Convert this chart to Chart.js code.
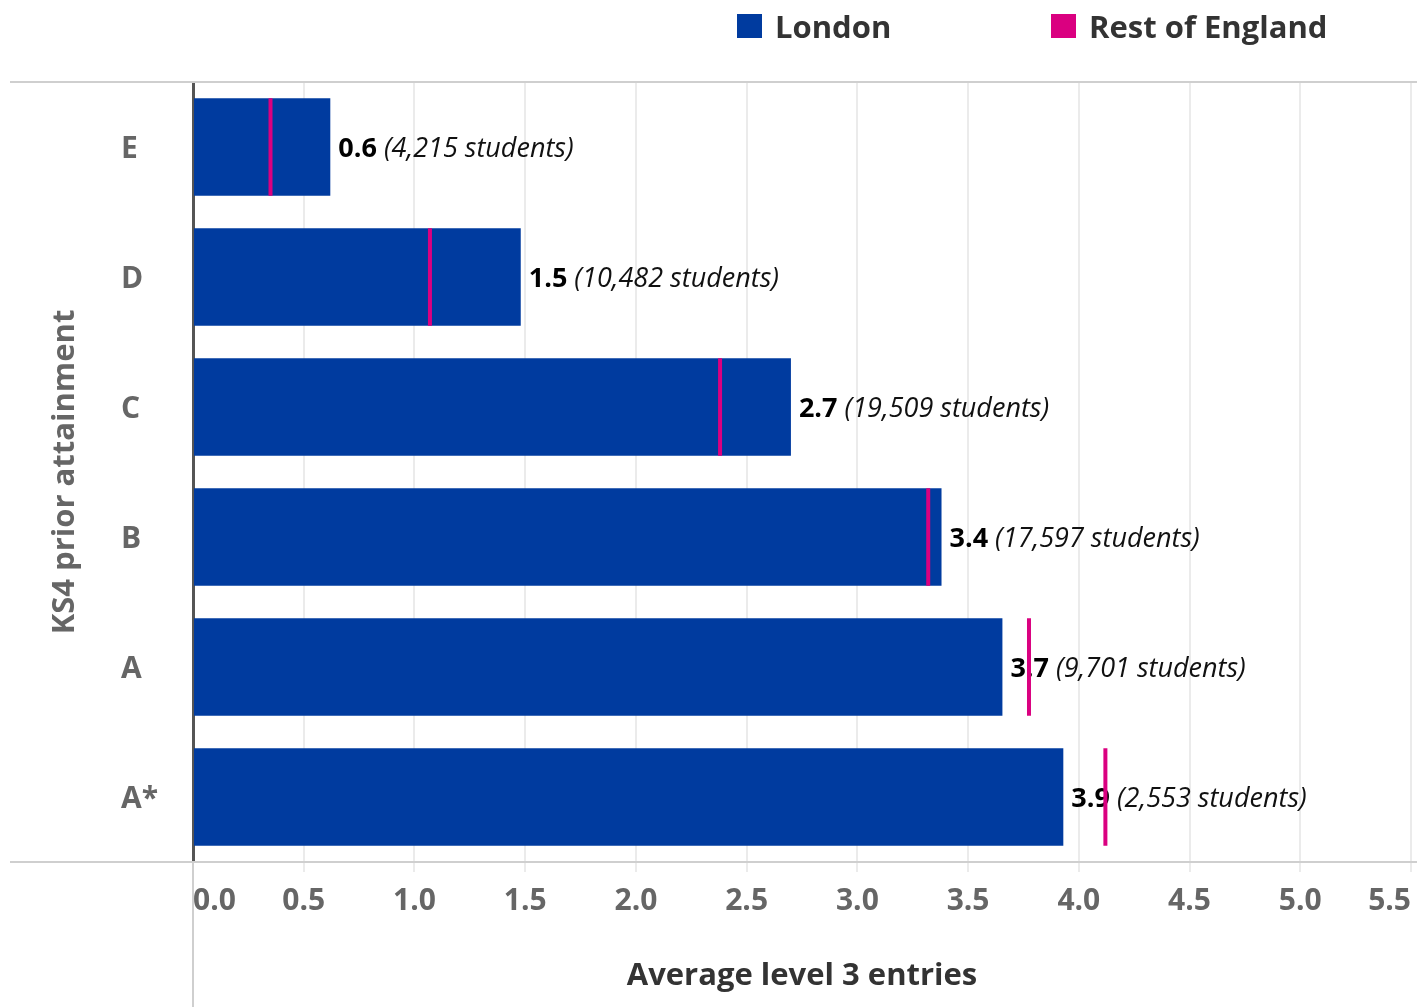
<!DOCTYPE html>
<html>
<head>
<meta charset="utf-8">
<script src="https://cdn.jsdelivr.net/npm/chart.js@4.4.0/dist/chart.umd.min.js"></script>
<style>
  body { margin: 0; background: #fff; font-family: 'Open Sans', sans-serif; }
  .wrap { position: relative; width: 1417px; height: 1007px; }
  .legend-item { position: absolute; top: 14px; height: 24px; line-height: 24px; display: flex; align-items: center; white-space: nowrap; font-weight: bold; font-size: 31px; color: #333; }
  .legend-item .box { width: 25px; height: 24px; margin-right: 13px; }
</style>
</head>
<body>
<div class="wrap">
  <div id="legend"></div>
  <canvas id="chart"></canvas>
</div>
<script>
// KS4 prior attainment bands
const categories = ['E', 'D', 'C', 'B', 'A', 'A*'];
// average level 3 entries
const london = [0.62, 1.48, 2.70, 3.38, 3.655, 3.93];
const restOfEngland = [0.35, 1.07, 2.38, 3.32, 3.775, 4.12];
const students = [4215, 10482, 19509, 17597, 9701, 2553];
const xMax = 5.5;
const xStep = 0.5;

const blue = '#003B9F';
const magenta = '#DA0080';
const font = 'Open Sans';
const legendLeft = [737, 1051];

// bold value + italic student count after each bar
const valueLabels = {
  id: 'valueLabels',
  afterDatasetDraw(chart, args) {
    if (args.meta.type !== 'bar') return;
    const ctx = chart.ctx;
    ctx.save();
    ctx.textBaseline = 'middle';
    args.meta.data.forEach((bar, i) => {
      const x = bar.x + 8;
      const y = bar.y + 2;
      const val = london[i].toFixed(1);
      ctx.font = `bold 27px "${font}"`;
      ctx.fillStyle = '#000';
      ctx.fillText(val, x, y);
      const w = ctx.measureText(val + ' ').width;
      ctx.font = `italic 27px "${font}"`;
      ctx.fillStyle = '#111';
      ctx.fillText('(' + students[i].toLocaleString('en-GB') + ' students)', x + w, y);
    });
    ctx.restore();
  }
};

// the light frame lines that run past the plot area
const frameLines = {
  id: 'frameLines',
  afterDraw(chart) {
    const {ctx, chartArea: a, width, height} = chart;
    ctx.save();
    ctx.strokeStyle = '#cfcfcf';
    ctx.lineWidth = 2;
    ctx.beginPath();
    ctx.moveTo(10, a.top); ctx.lineTo(width, a.top);
    ctx.moveTo(10, a.bottom); ctx.lineTo(width, a.bottom);
    ctx.moveTo(a.left, a.bottom); ctx.lineTo(a.left, height);
    ctx.stroke();
    ctx.restore();
  }
};

const chart = new Chart(document.getElementById('chart'), {
  type: 'bar',
  data: {
    labels: categories,
    datasets: [
      {
        type: 'bar',
        label: 'London',
        data: london,
        order: 1,
        backgroundColor: blue,
        barPercentage: 0.75,
        categoryPercentage: 1
      },
      {
        type: 'line',
        label: 'Rest of England',
        data: restOfEngland,
        order: 0,
        showLine: false,
        pointStyle: 'line',
        rotation: 90,
        pointRadius: 48.75,
        pointHoverRadius: 48.75,
        pointBorderWidth: 4,
        borderColor: magenta,
        backgroundColor: magenta
      }
    ]
  },
  options: {
    indexAxis: 'y',
    responsive: true,
    maintainAspectRatio: false,
    animation: false,
    events: [],
    layout: { autoPadding: false, padding: { top: 82, left: 121, right: 6, bottom: 0 } },
    plugins: {
      legend: { display: false },
      tooltip: { enabled: false }
    },
    scales: {
      x: {
        type: 'linear',
        min: 0,
        max: xMax,
        ticks: {
          stepSize: xStep,
          align: 'inner',
          color: '#666',
          padding: 6,
          font: { family: font, size: 30, weight: 'bold', lineHeight: 1.55 },
          callback: v => v.toFixed(1)
        },
        grid: { color: '#ebebeb', lineWidth: 2, tickLength: 10 },
        border: { display: false },
        title: {
          display: true,
          text: 'Average level 3 entries',
          color: '#333',
          font: { family: font, size: 31, weight: 'bold' },
          padding: { top: 0, bottom: 12 }
        },
        afterFit: s => { s.height = 145; }
      },
      y: {
        offset: true,
        ticks: {
          crossAlign: 'far',
          labelOffset: 2,
          color: '#666',
          font: { family: font, size: 30, weight: 'bold' }
        },
        grid: { display: true, drawOnChartArea: false, drawTicks: false },
        border: { display: true, color: '#555', width: 3 },
        title: {
          display: true,
          text: 'KS4 prior attainment',
          color: '#666',
          font: { family: font, size: 31, weight: 'bold' },
          padding: { top: -74, bottom: 0 }
        },
        afterFit: s => { s.width = 72; }
      }
    }
  },
  plugins: [valueLabels, frameLines]
});

// html legend built from the datasets
const legend = document.getElementById('legend');
chart.data.datasets.forEach((ds, i) => {
  const item = document.createElement('div');
  item.className = 'legend-item';
  item.style.left = legendLeft[i] + 'px';
  const box = document.createElement('span');
  box.className = 'box';
  box.style.background = ds.type === 'bar' ? ds.backgroundColor : ds.borderColor;
  item.appendChild(box);
  item.appendChild(document.createTextNode(ds.label));
  legend.appendChild(item);
});
</script>
</body>
</html>
